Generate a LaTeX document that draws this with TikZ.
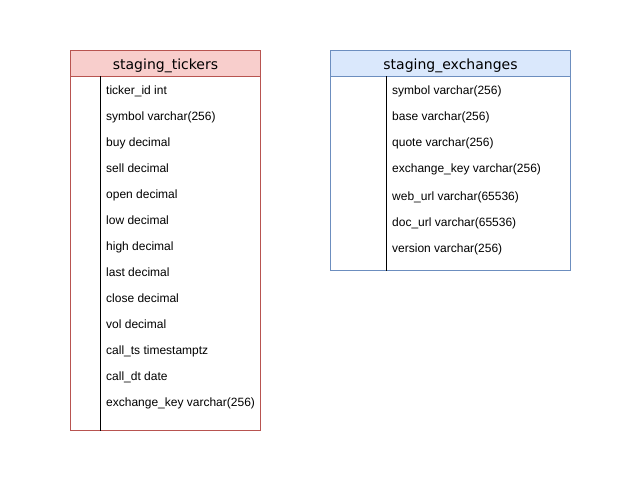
\documentclass[tikz,border=0pt]{standalone}
\usepackage{fontspec}
\setmainfont{Liberation Sans}
\newfontfamily\headfont{DejaVu Sans}
\usepackage{tikz}
\definecolor{tickfill}{HTML}{F8CECC}
\definecolor{tickline}{HTML}{B85450}
\definecolor{exchfill}{HTML}{DAE8FC}
\definecolor{exchline}{HTML}{6C8EBF}
\tikzset{head/.style={draw, minimum height=26pt, inner sep=0pt,
    text height=12pt, text depth=0pt,
    font=\headfont\fontsize{14}{16}\selectfont},
    field/.style={anchor=west, inner sep=0pt,
    text height=10pt, text depth=0pt,
    font=\fontsize{12}{14}\selectfont}}

\begin{document}
\begin{tikzpicture}[x=1pt,y=-1pt]
        \useasboundingbox (0,0) rectangle (631,491);
        % Table staging_tickers
        \node[head, fill=tickfill, draw=tickline, minimum width=190pt]
        (TH) at (165.5,63) {staging\_tickers};
        \draw[tickline] (TH.south west) rectangle (260.5,430.5);
        \coordinate (TT) at (100.5,76);
        \coordinate (TB) at (100.5,430.5);
        \draw (TT) -- (TB);
        % Fields of staging_tickers
        \node[field] (t1) at (106,89) {ticker\_id int};
        \node[field] (t2) at (106,115) {symbol varchar(256)};
        \node[field] (t3) at (106,141) {buy decimal};
        \node[field] (t4) at (106,167) {sell decimal};
        \node[field] (t5) at (106,193) {open decimal};
        \node[field] (t6) at (106,219) {low decimal};
        \node[field] (t7) at (106,245) {high decimal};
        \node[field] (t8) at (106,271) {last decimal};
        \node[field] (t9) at (106,297) {close decimal};
        \node[field] (t10) at (106,323) {vol decimal};
        \node[field] (t11) at (106,349) {call\_ts timestamptz};
        \node[field] (t12) at (106,375) {call\_dt date};
        \node[field] (t13) at (106,401) {exchange\_key varchar(256)};
        % Table staging_exchanges
        \node[head, fill=exchfill, draw=exchline, minimum width=240pt]
        (EH) at (450.5,63) {staging\_exchanges};
        \draw[exchline] (EH.south west) rectangle (570.5,270.5);
        \coordinate (ET) at (386.5,76);
        \coordinate (EB) at (386.5,270.5);
        \draw (ET) -- (EB);
        % Fields of staging_exchanges
        \node[field] (e1) at (392,89) {symbol varchar(256)};
        \node[field] (e2) at (392,115) {base varchar(256)};
        \node[field] (e3) at (392,141) {quote varchar(256)};
        \node[field] (e4) at (392,167) {exchange\_key varchar(256)};
        \node[field] (e5) at (392,195) {web\_url varchar(65536)};
        \node[field] (e6) at (392,221) {doc\_url varchar(65536)};
        \node[field] (e7) at (392,247) {version varchar(256)};
    \end{tikzpicture}
\end{document}
